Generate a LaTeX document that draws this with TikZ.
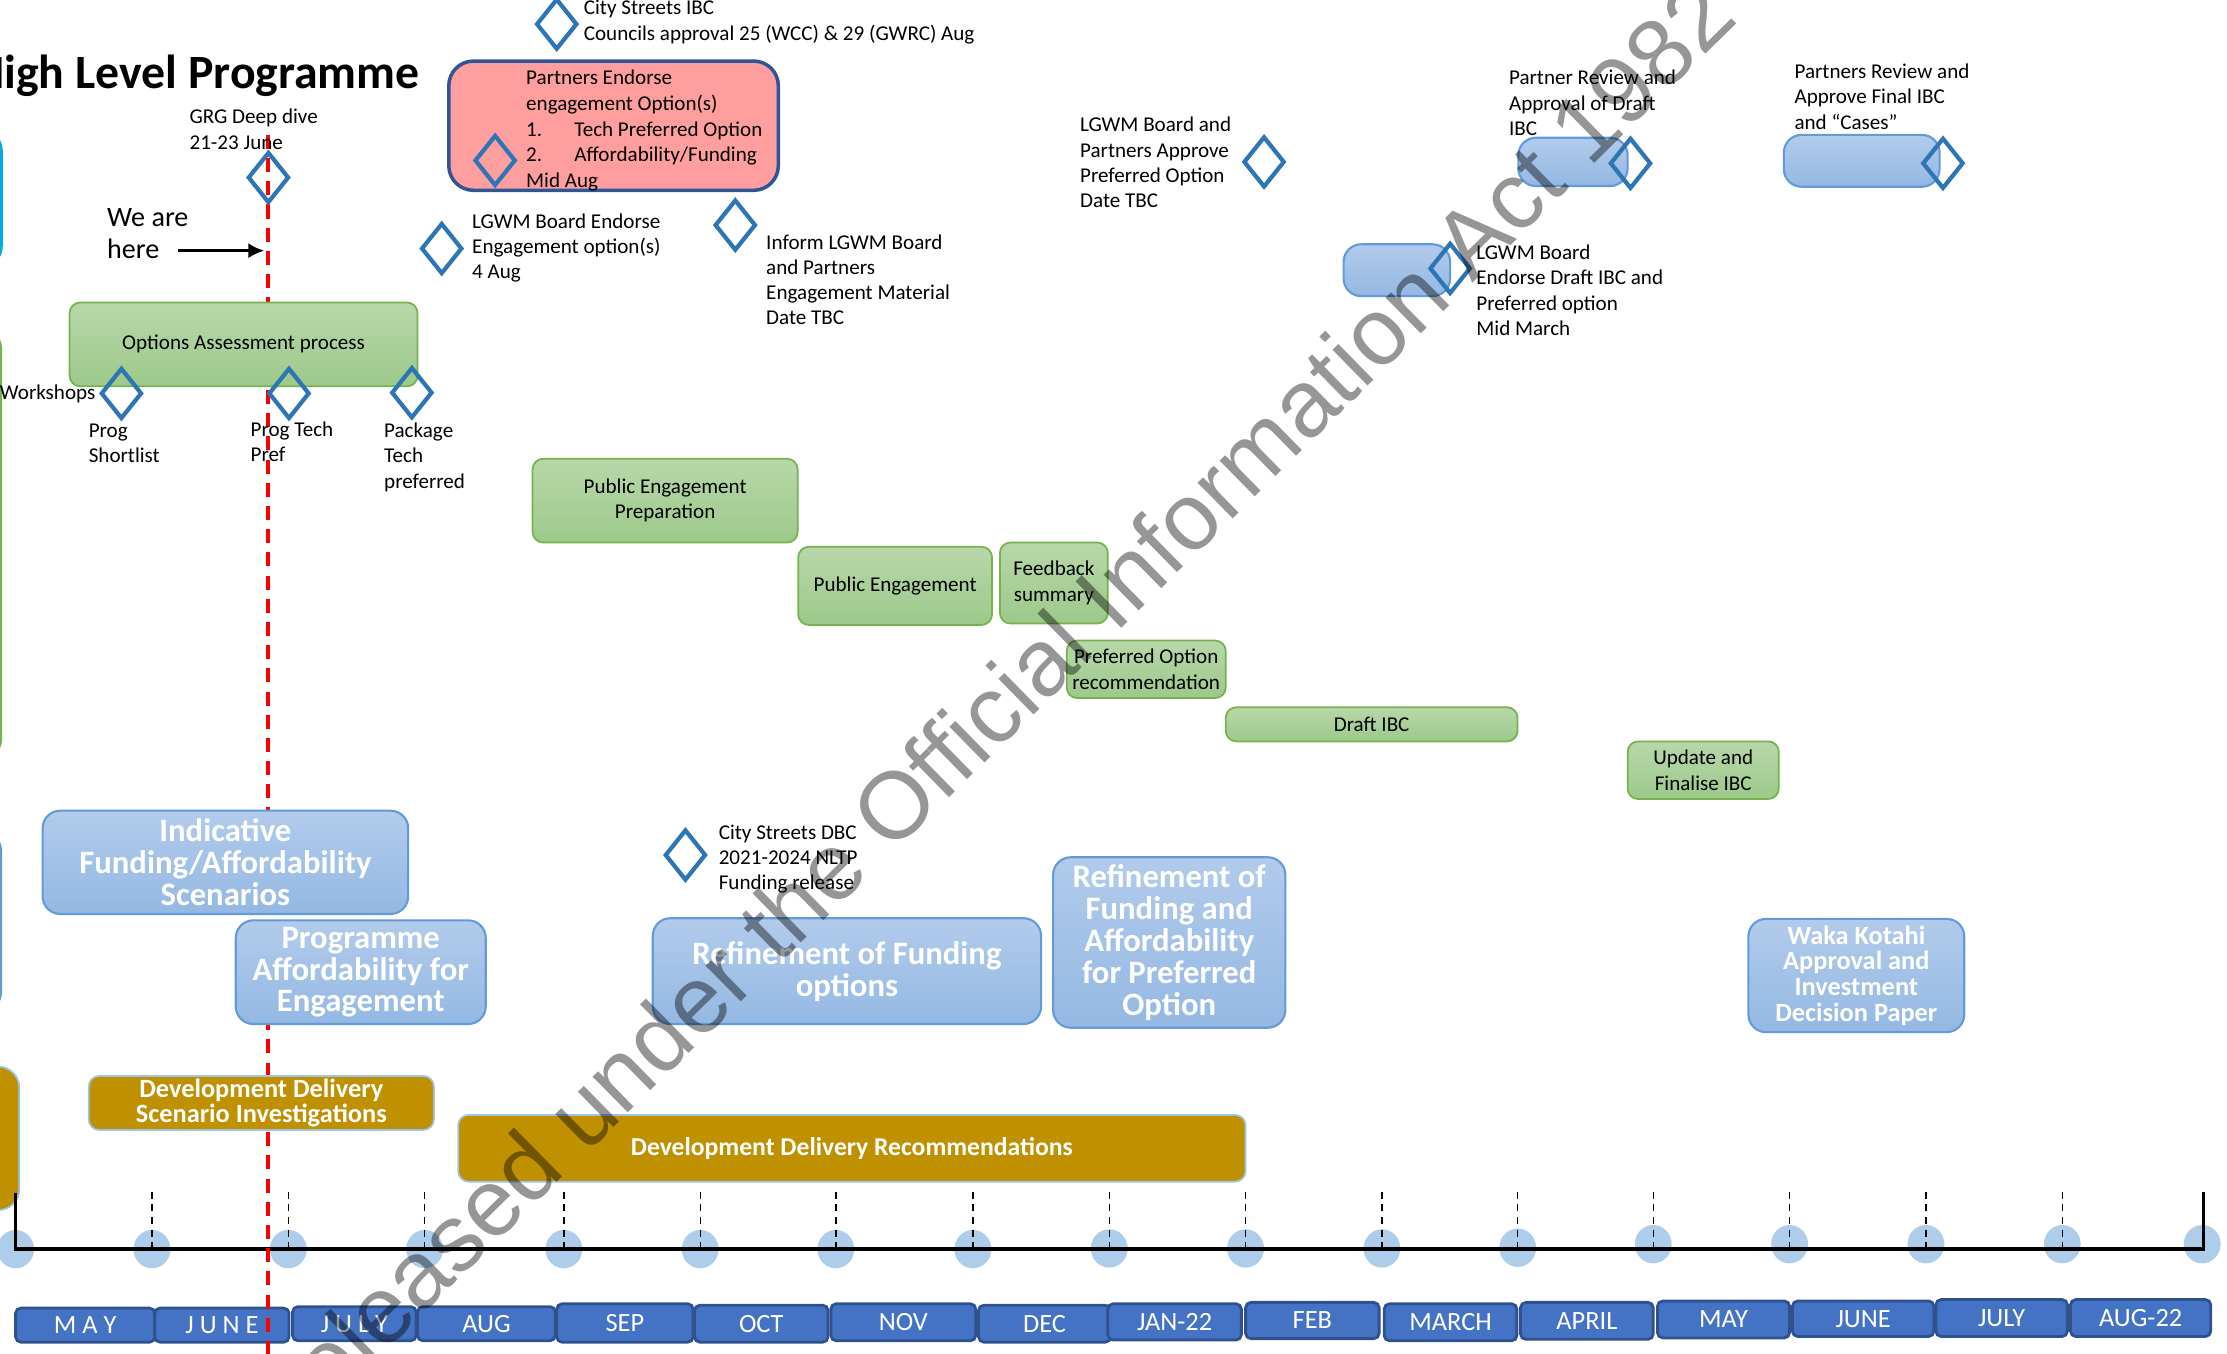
\documentclass[tikz,border=0pt]{standalone}
\usepackage{fontspec}
\setmainfont{Carlito}
\newfontfamily\wmfont{Liberation Sans}
\usetikzlibrary{shapes.geometric,fit,arrows.meta}
\definecolor{msblue}{RGB}{46,117,182}
\definecolor{grtop}{RGB}{184,215,170}
\definecolor{grbot}{RGB}{157,201,138}
\definecolor{grline}{RGB}{118,178,80}
\definecolor{bltop}{RGB}{178,203,235}
\definecolor{blbot}{RGB}{148,184,227}
\definecolor{blline}{RGB}{98,155,215}
\definecolor{pinkfill}{RGB}{255,158,158}
\definecolor{pinkline}{RGB}{47,85,151}
\definecolor{gold}{RGB}{191,144,0}
\definecolor{goldline}{RGB}{157,195,230}
\definecolor{mfill}{RGB}{68,114,196}
\definecolor{mline}{RGB}{47,82,143}
\definecolor{dotblue}{RGB}{174,205,234}
\definecolor{nowred}{RGB}{250,0,0}
\definecolor{cyanline}{RGB}{0,170,235}
\begin{document}
\lineskiplimit=-20pt
\begin{tikzpicture}[x=0.0142cm,y=-0.0142cm,
  small/.style={inner sep=0pt,align=left,anchor=west,font=\fontsize{6}{7.2}\selectfont},
  milestone/.style={diamond,draw=msblue,line width=1.2pt,inner sep=0pt,minimum width=11.7pt,minimum height=14.5pt},
  greenbox/.style={rounded corners=3pt,draw=grline,line width=0.5pt,top color=grtop,bottom color=grbot,inner sep=0pt},
  bluebox/.style={rounded corners=5pt,draw=blline,line width=0.6pt,top color=bltop,bottom color=blbot,inner sep=0pt},
  goldbox/.style={rounded corners=3pt,draw=goldline,line width=0.5pt,fill=gold,inner sep=0pt},
  monthbox/.style={rounded corners=1.5pt,draw=mline,line width=0.8pt,fill=mfill,inner sep=0pt},
  greentext/.style={inner sep=0pt,align=center,font=\fontsize{6}{7.2}\selectfont},
  bluetext/.style={inner sep=0pt,align=center,text=white,font=\fontsize{9.3}{9.1}\selectfont\bfseries},
  goldtext/.style={inner sep=0pt,align=center,text=white,font=\fontsize{7.5}{7.1}\selectfont\bfseries},
  monthtext/.style={inner sep=0pt,text=white,font=\fontsize{7.5}{9}\selectfont}]
\useasboundingbox (0,0) rectangle (1568,953);
\draw[cyanline,line width=1.2pt,rounded corners=6pt] (-60,91.5) rectangle (0.5,188);
\draw[grline,line width=0.8pt,rounded corners=6pt] (-60,231) rectangle (0.5,535);
\draw[blline,line width=0.8pt,rounded corners=6pt] (-60,584.5) rectangle (0.5,713);
\draw[goldline,fill=gold,line width=0.5pt,rounded corners=6pt] (-60,751) rectangle (13.6,852);
\fill[dotblue] (11,879.5) ellipse (13 and 13.5);
\fill[dotblue] (107,879.5) ellipse (13 and 13.5);
\fill[dotblue] (203,879.5) ellipse (13 and 13.5);
\fill[dotblue] (299,879.5) ellipse (13 and 13.5);
\fill[dotblue] (397,879.5) ellipse (13 and 13.5);
\fill[dotblue] (493,879.5) ellipse (13 and 13.5);
\fill[dotblue] (588.5,879.5) ellipse (13 and 13.5);
\fill[dotblue] (685,879.5) ellipse (13 and 13.5);
\fill[dotblue] (781,879) ellipse (13 and 13.5);
\fill[dotblue] (877,879) ellipse (13 and 13.5);
\fill[dotblue] (973,879) ellipse (13 and 13.5);
\fill[dotblue] (1068.6,878.5) ellipse (13 and 13.5);
\fill[dotblue] (1164,876) ellipse (13 and 13.5);
\fill[dotblue] (1260,876) ellipse (13 and 13.5);
\fill[dotblue] (1356,876) ellipse (13 and 13.5);
\fill[dotblue] (1452,876) ellipse (13 and 13.5);
\fill[dotblue] (1550.5,876) ellipse (13 and 13.5);
\draw[line width=0.9pt] (11,840) -- (11,879.4) -- (1551.5,879.4) -- (1551.5,839);
\draw[dashed,dash pattern=on 2pt off 1.6pt,line width=0.4pt] (107,839) -- (107,879);
\draw[dashed,dash pattern=on 2pt off 1.6pt,line width=0.4pt] (203,839) -- (203,879);
\draw[dashed,dash pattern=on 2pt off 1.6pt,line width=0.4pt] (299,839) -- (299,879);
\draw[dashed,dash pattern=on 2pt off 1.6pt,line width=0.4pt] (397,839) -- (397,879);
\draw[dashed,dash pattern=on 2pt off 1.6pt,line width=0.4pt] (493,839) -- (493,879);
\draw[dashed,dash pattern=on 2pt off 1.6pt,line width=0.4pt] (588.5,839) -- (588.5,879);
\draw[dashed,dash pattern=on 2pt off 1.6pt,line width=0.4pt] (685,839) -- (685,879);
\draw[dashed,dash pattern=on 2pt off 1.6pt,line width=0.4pt] (781,839) -- (781,879);
\draw[dashed,dash pattern=on 2pt off 1.6pt,line width=0.4pt] (877,839) -- (877,879);
\draw[dashed,dash pattern=on 2pt off 1.6pt,line width=0.4pt] (973,839) -- (973,879);
\draw[dashed,dash pattern=on 2pt off 1.6pt,line width=0.4pt] (1068.6,839) -- (1068.6,879);
\draw[dashed,dash pattern=on 2pt off 1.6pt,line width=0.4pt] (1164,839) -- (1164,879);
\draw[dashed,dash pattern=on 2pt off 1.6pt,line width=0.4pt] (1260,839) -- (1260,879);
\draw[dashed,dash pattern=on 2pt off 1.6pt,line width=0.4pt] (1356,839) -- (1356,879);
\draw[dashed,dash pattern=on 2pt off 1.6pt,line width=0.4pt] (1452,839) -- (1452,879);
\node[monthbox,fit={(11,921) (109,945)},label={[monthtext]center:{M A Y}}] (may) {};
\node[monthbox,fit={(109,921) (203.5,945)},label={[monthtext]center:{J U N E}}] (june) {};
\node[monthbox,fit={(206,920) (293,944)},label={[monthtext]center:{J U L Y}}] (july) {};
\node[monthbox,fit={(294,920) (391,944)},label={[monthtext]center:{AUG}}] (aug) {};
\node[monthbox,fit={(392,918) (488,945)},label={[monthtext]center:{SEP}}] (sep) {};
\node[monthbox,fit={(489,919) (583,945)},label={[monthtext]center:{OCT}}] (oct) {};
\node[monthbox,fit={(585,918) (687,944)},label={[monthtext]center:{NOV}}] (nov) {};
\node[monthbox,fit={(689,919) (782,945)},label={[monthtext]center:{DEC}}] (dec) {};
\node[monthbox,fit={(780,918) (874,943.5)},label={[monthtext]center:{JAN-22}}] (jan) {};
\node[monthbox,fit={(877,917) (971,942.5)},label={[monthtext]center:{FEB}}] (feb) {};
\node[monthbox,fit={(974.6,918) (1068,944)},label={[monthtext]center:{MARCH}}] (march) {};
\node[monthbox,fit={(1070.6,917) (1164,943)},label={[monthtext]center:{APRIL}}] (april) {};
\node[monthbox,fit={(1167,916) (1260,942)},label={[monthtext]center:{MAY}}] (maytwo) {};
\node[monthbox,fit={(1262,916) (1361.6,941)},label={[monthtext]center:{JUNE}}] (junetwo) {};
\node[monthbox,fit={(1363,915) (1455.6,941)},label={[monthtext]center:{JULY}}] (julytwo) {};
\node[monthbox,fit={(1457.8,915) (1556.5,941)},label={[monthtext]center:{AUG-22}}] (augtwo) {};
\draw[nowred,line width=1.1pt,dash pattern=on 4pt off 2.6pt] (188.5,95) -- (188.5,960);
\coordinate (nowmark) at (186,176.5);
\node[inner sep=0pt,anchor=base east,font=\fontsize{13.6}{16}\selectfont\bfseries] (title) at (296,62) {High Level Programme};
\node[inner sep=0pt,align=left,anchor=west,font=\fontsize{8}{9}\selectfont] (weare) at (75,164.4) {We are\\here};
\draw[line width=0.75pt,-{Latex[length=4.5pt,width=4.3pt]}] ([xshift=-3.2pt]weare.east |- nowmark) -- (nowmark);
\node[greenbox,fit={(49,213) (294,272)},label={[greentext]center:{Options Assessment process}}] (optbox) {};
\node[rounded corners=7pt,draw=pinkline,line width=1pt,fill=pinkfill,inner sep=0pt,fit={(316,43) (548,134)}] (pinkbox) {};
\node[bluebox,fit={(1069,97) (1146,131)}] (reviewbox) {};
\node[bluebox,fit={(1256,95) (1365.6,131.5)}] (finalbox) {};
\node[bluebox,fit={(946,172) (1021,208.5)}] (endorsebox) {};
\node[greenbox,fit={(375,323) (561.6,382)},label={[greentext]center:{Public Engagement\\Preparation}}] (prepbox) {};
\node[greenbox,fit={(562,385) (698.5,440)},label={[greentext]center:{Public Engagement}}] (pubbox) {};
\node[greenbox,fit={(704,382) (780,439)},label={[greentext]center:{Feedback\\summary}}] (feedbox) {};
\node[greenbox,fit={(751,451) (863,491.5)},label={[greentext]center:{Preferred Option\\recommendation}}] (recbox) {};
\node[greenbox,fit={(863,498) (1068.5,522)},label={[greentext]center:{Draft IBC}}] (draftbox) {};
\node[greenbox,fit={(1146,522) (1252.4,562.6)},label={[greentext]center:{Update and\\Finalise IBC}}] (updatebox) {};
\node[bluebox,fit={(30,570.8) (287.4,643.5)},label={[bluetext]center:{Indicative\\Funding/Affordability\\Scenarios}}] (scenbox) {};
\node[bluebox,fit={(166,648) (342,721)},label={[bluetext]center:{Programme\\Affordability for\\Engagement}}] (progbox) {};
\node[bluebox,fit={(459.6,646.5) (733,721)},label={[bluetext]center:{Refinement of Funding\\options}}] (refinebox) {};
\node[bluebox,fit={(741.5,603.6) (905,723.6)},label={[bluetext]center:{Refinement of\\Funding and\\Affordability\\for Preferred\\Option}}] (prefbox) {};
\node[bluebox,fit={(1231,647) (1383,726.7)},label={[bluetext,font=\fontsize{7.5}{7.3}\selectfont\bfseries]center:{Waka Kotahi\\Approval and\\Investment\\Decision Paper}}] (wakabox) {};
\node[goldbox,fit={(62.5,757.6) (305.5,795.6)},label={[goldtext]center:{Development Delivery\\Scenario Investigations}}] (scenariobox) {};
\node[goldbox,fit={(322.6,785) (877,832)},label={[goldtext,font=\fontsize{7.3}{8}\selectfont\bfseries]center:{Development Delivery Recommendations}}] (recommendbox) {};
\node[milestone] (grg) at (189,125) {};
\node[milestone] (citystreets) at (392,17) {};
\node[milestone] (partners) at (348.6,113) {};
\node[milestone] (boardendorse) at (311,175) {};
\node[milestone] (inform) at (517.7,158.5) {};
\node[milestone] (approve) at (890,114) {};
\node[milestone] (review) at (1148,115) {};
\node[milestone] (final) at (1368,115) {};
\node[milestone] (draftendorse) at (1021,189) {};
\node[milestone] (shortlist) at (85.5,277) {};
\node[milestone] (techpref) at (203.5,277) {};
\node[milestone] (package) at (290,276.5) {};
\node[milestone] (dbc) at (482.6,602) {};
\node[small] (grglbl) at (133,91) {GRG Deep dive\\21-23 June};
\node[small] (citylbl) at (410.6,15.6) {City Streets IBC\\Councils approval 25 (WCC) \& 29 (GWRC) Aug};
\node[small,font=\fontsize{6}{7.35}\selectfont] (partnerslbl) at (370,92) {Partners Endorse\\engagement Option(s)\\\makebox[13.7pt][l]{1.}Tech Preferred Option\\\makebox[13.7pt][l]{2.}Affordability/Funding\\Mid Aug};
\node[small] (boardlbl) at (332,174.7) {LGWM Board Endorse\\Engagement option(s)\\4 Aug};
\node[small] (informlbl) at (539,197) {Inform LGWM Board\\and Partners\\Engagement Material\\Date TBC};
\node[small] (approvelbl) at (760,114.5) {LGWM Board and\\Partners Approve\\Preferred Option\\Date TBC};
\node[small] (reviewlbl) at (1062,72.5) {Partner Review and\\Approval of Draft\\IBC};
\node[small] (finallbl) at (1263,68) {Partners Review and\\Approve Final IBC\\and “Cases”};
\node[small] (draftlbl) at (1039,204.4) {LGWM Board\\Endorse Draft IBC and\\Preferred option\\Mid March};
\node[small] (workshopslbl) at (-0.5,277.5) {Workshops};
\node[small] (shortlistlbl) at (62,312) {Prog\\Shortlist};
\node[small] (techpreflbl) at (176,311) {Prog Tech\\Pref};
\node[small] (packagelbl) at (270,322) {Package\\Tech\\preferred};
\node[small] (dbclbl) at (505.6,604.8) {City Streets DBC\\2021-2024 NLTP\\Funding release};
\node[rotate=44.5,inner sep=0pt,opacity=0.41,font=\wmfont\fontsize{27}{32}\selectfont] (watermark) at (695,502) {Released under the Official Information Act 1982};
\end{tikzpicture}
\end{document}
